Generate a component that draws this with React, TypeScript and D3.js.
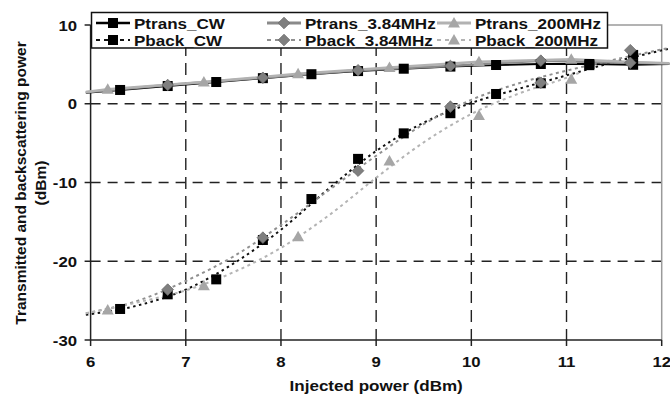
import React, { useEffect, useRef } from "react";
import * as d3 from "d3";

// axis ticks
const xTicks = [6, 7, 8, 9, 10, 11, 12];
const yTicks = [-30, -20, -10, 0, 10];
const yGrid = [-20, -10, 0];
const xGrid = [7, 8, 9, 10, 11];

// CW series
const xCW = [6.31, 6.81, 7.32, 7.81, 8.32, 8.81, 9.29, 9.78, 10.26, 10.73, 11.24, 11.7];
const ptransCW = [1.75, 2.25, 2.76, 3.25, 3.75, 4.15, 4.45, 4.72, 4.92, 5.05, 5.05, 4.95];
const pbackCW = [-26.06, -24.2, -22.3, -17.3, -12.1, -7.0, -3.76, -1.2, 1.24, 2.6, 4.9, 6.2];

// 3.84MHz series
const x384 = [6.81, 7.81, 8.81, 9.78, 10.73, 11.67];
const ptrans384 = [2.38, 3.3, 4.25, 4.8, 5.47, 5.2];
const pback384 = [-23.6, -17.0, -8.5, -0.37, 2.67, 6.8];

// 200MHz series
const x200 = [6.18, 7.19, 8.18, 9.14, 10.08, 11.05];
const ptrans200 = [1.83, 2.75, 3.8, 4.6, 5.34, 5.64];
const pback200 = [-26.2, -23.1, -16.9, -7.27, -1.5, 3.1];

// line ends / trend curves
const ptransCWEnds = [[5.95, 1.4], [12.08, 5.05]];
const ptrans384Ends = [[5.95, 1.45], [12.08, 5.1]];
const ptrans200Ends = [[5.95, 1.5], [11.67, 5.3], [12.08, 5.15]];
const trendX = [5.95, 6.5, 7, 7.5, 8, 8.5, 9, 9.5, 10, 10.5, 11, 11.5, 12.08];
const pbackCWTrend = [-26.8, -25.6, -23.6, -20.3, -16.0, -10.8, -6.0, -2.4, 0.1, 1.9, 3.6, 5.3, 7.0];
const pback384Trend = [-26.6, -25.0, -22.5, -19.4, -15.4, -11.0, -6.6, -2.6, 0.5, 2.6, 4.2, 5.6, 7.1];
const trendX200 = [5.95, 6.5, 7, 7.5, 8, 8.5, 9, 9.5, 10, 10.5, 11, 11.15];
const pback200Trend = [-26.6, -25.2, -23.7, -21.4, -18.3, -14.2, -9.4, -4.9, -1.3, 1.3, 3.3, 4.0];

const legendNames = [
  ["Ptrans_CW", "Pback_CW"],
  ["Ptrans_3.84MHz", "Pback_3.84MHz"],
  ["Ptrans_200MHz", "Pback_200MHz"],
];

const FONT = "'Liberation Sans', Arial, sans-serif";

function App() {
  const ref = useRef<HTMLDivElement | null>(null);

  useEffect(() => {
    const W = 670;
    const H = 400;
    const left = 90.6;
    const right = 661.7;
    const top = 25;
    const bottom = 340;

    const x = d3.scaleLinear().domain([6, 12]).range([left, right]);
    const y = d3.scaleLinear().domain([-30, 10]).range([bottom, top]);

    const svg = d3
      .select(ref.current)
      .append("svg")
      .attr("width", W)
      .attr("height", H)
      .style("display", "block")
      .style("background", "white");

    const hText = (tx: number, ty: number, s: string, anchor: string, size: number, sx = 1.08) =>
      svg
        .append("text")
        .attr("transform", `translate(${tx},${ty}) scale(${sx},1)`)
        .attr("text-anchor", anchor)
        .attr("font-family", FONT)
        .attr("font-weight", "bold")
        .attr("font-size", size)
        .attr("fill", "#111")
        .text(s);

    // grid
    yGrid.forEach((v) =>
      svg
        .append("line")
        .attr("x1", left)
        .attr("x2", right)
        .attr("y1", y(v))
        .attr("y2", y(v))
        .attr("stroke", "#222")
        .attr("stroke-width", 1.4)
        .attr("stroke-dasharray", "10,7")
    );
    xGrid.forEach((v) =>
      svg
        .append("line")
        .attr("x1", x(v))
        .attr("x2", x(v))
        .attr("y1", top)
        .attr("y2", bottom)
        .attr("stroke", "#222")
        .attr("stroke-width", 1.4)
        .attr("stroke-dasharray", "12,7")
    );

    // plot border top/right (gray)
    svg
      .append("path")
      .attr("d", `M${left},${top}H${right}V${bottom}`)
      .attr("fill", "none")
      .attr("stroke", "#9a9a9a")
      .attr("stroke-width", 1.5);

    // axes
    svg
      .append("line")
      .attr("x1", left)
      .attr("x2", left)
      .attr("y1", top)
      .attr("y2", bottom)
      .attr("stroke", "#222")
      .attr("stroke-width", 1.5);
    svg
      .append("line")
      .attr("x1", left)
      .attr("x2", right)
      .attr("y1", bottom)
      .attr("y2", bottom)
      .attr("stroke", "#222")
      .attr("stroke-width", 1.5);

    yTicks.forEach((t) => {
      svg
        .append("line")
        .attr("x1", left - 6)
        .attr("x2", left)
        .attr("y1", y(t))
        .attr("y2", y(t))
        .attr("stroke", "#222")
        .attr("stroke-width", 1.5);
      hText(77, y(t) + 5.5, String(t), "end", 15.5);
    });
    xTicks.forEach((t) => {
      svg
        .append("line")
        .attr("x1", x(t))
        .attr("x2", x(t))
        .attr("y1", bottom)
        .attr("y2", bottom + 6)
        .attr("stroke", "#222")
        .attr("stroke-width", 1.5);
      hText(x(t), 367, String(t), "middle", 15.5);
    });

    // axis titles
    hText((left + right) / 2, 391, "Injected power (dBm)", "middle", 15.5, 1.1);
    const yTitle = (tx: number, s: string) =>
      svg
        .append("text")
        .attr("transform", `translate(${tx},183) rotate(-90)`)
        .attr("text-anchor", "middle")
        .attr("font-family", FONT)
        .attr("font-weight", "bold")
        .attr("font-size", 15.5)
        .attr("fill", "#111")
        .text(s);
    yTitle(25.5, "Transmitted and backscattering power");
    yTitle(46, "(dBm)");

    const line = d3
      .line<number[]>()
      .x((d) => x(d[0]))
      .y((d) => y(d[1]));
    const curve = d3
      .line<number[]>()
      .curve(d3.curveMonotoneX)
      .x((d) => x(d[0]))
      .y((d) => y(d[1]));

    const zip = (xs: number[], ys: number[]) => xs.map((v, i) => [v, ys[i]]);

    const drawMarker = (
      g: d3.Selection<SVGGElement, unknown, null, undefined>,
      kind: string,
      cx: number,
      cy: number,
      color: string
    ) => {
      if (kind === "square") {
        g.append("rect")
          .attr("x", cx - 5)
          .attr("y", cy - 5)
          .attr("width", 10)
          .attr("height", 10)
          .attr("fill", color);
      } else if (kind === "diamond") {
        g.append("path")
          .attr("d", `M${cx},${cy - 5.8}L${cx + 5.8},${cy}L${cx},${cy + 5.8}L${cx - 5.8},${cy}Z`)
          .attr("fill", color)
          .attr("stroke", "#6a6a6a")
          .attr("stroke-width", 0.8);
      } else {
        g.append("path")
          .attr("d", `M${cx},${cy - 6}L${cx + 6},${cy + 4.5}L${cx - 6},${cy + 4.5}Z`)
          .attr("fill", color);
      }
    };

    const series = [
      {
        pts: zip(xCW, ptransCW),
        path: [ptransCWEnds[0], ...zip(xCW, ptransCW), ptransCWEnds[1]],
        smooth: false,
        color: "#000",
        lineColor: "#000",
        width: 2,
        dash: null as string | null,
        kind: "square",
      },
      {
        pts: zip(xCW, pbackCW),
        path: zip(trendX, pbackCWTrend),
        smooth: true,
        color: "#000",
        lineColor: "#111",
        width: 2,
        dash: "2.5,3.5",
        kind: "square",
      },
      {
        pts: zip(x384, ptrans384),
        path: [ptrans384Ends[0], ...zip(x384, ptrans384), ptrans384Ends[1]],
        smooth: false,
        color: "#7f7f7f",
        lineColor: "#8a8a8a",
        width: 2.5,
        dash: null,
        kind: "diamond",
      },
      {
        pts: zip(x384, pback384),
        path: zip(trendX, pback384Trend),
        smooth: true,
        color: "#7f7f7f",
        lineColor: "#909090",
        width: 2,
        dash: "3,3.5",
        kind: "diamond",
      },
      {
        pts: zip(x200, ptrans200),
        path: [ptrans200Ends[0], ...zip(x200, ptrans200), ptrans200Ends[1], ptrans200Ends[2]],
        smooth: false,
        color: "#a6a6a6",
        lineColor: "#b2b2b2",
        width: 2.5,
        dash: null,
        kind: "triangle",
      },
      {
        pts: zip(x200, pback200),
        path: zip(trendX200, pback200Trend),
        smooth: true,
        color: "#a6a6a6",
        lineColor: "#b4b4b4",
        width: 2,
        dash: "3,3.5",
        kind: "triangle",
      },
    ];

    // lines first
    series.forEach((s) => {
      const p = svg
        .append("path")
        .datum(s.path)
        .attr("d", s.smooth ? curve : line)
        .attr("fill", "none")
        .attr("stroke", s.lineColor)
        .attr("stroke-width", s.width);
      if (s.dash) p.attr("stroke-dasharray", s.dash);
    });

    // markers
    series.forEach((s) => {
      const g = svg.append("g");
      s.pts.forEach((d) => drawMarker(g, s.kind, x(d[0]), y(d[1]), s.color));
    });

    // legend
    svg
      .append("rect")
      .attr("x", 91.5)
      .attr("y", 12.5)
      .attr("width", 516)
      .attr("height", 35.5)
      .attr("fill", "white")
      .attr("stroke", "#111")
      .attr("stroke-width", 1.5);

    const colX = [96, 267, 437];
    const rowY = [23, 40];
    const lg = svg.append("g");
    legendNames.forEach((col, ci) => {
      col.forEach((name, ri) => {
        const s = series[ci * 2 + ri];
        const ly = rowY[ri];
        const l = lg
          .append("line")
          .attr("x1", colX[ci])
          .attr("x2", colX[ci] + 34)
          .attr("y1", ly)
          .attr("y2", ly)
          .attr("stroke", s.lineColor)
          .attr("stroke-width", ri === 0 ? (ci === 0 ? 2.5 : 3) : 2);
        if (ri === 1) l.attr("stroke-dasharray", "4,4");
        drawMarker(lg, s.kind, colX[ci] + 17, ly, s.color);
        hText(colX[ci] + 38, ly + 5.5, name, "start", 15.5, 1.1);
      });
    });

    return () => {
      svg.remove();
    };
  }, []);

  return <div ref={ref} style={{ position: "absolute", left: 0, top: 0 }} />;
}

export default App;
